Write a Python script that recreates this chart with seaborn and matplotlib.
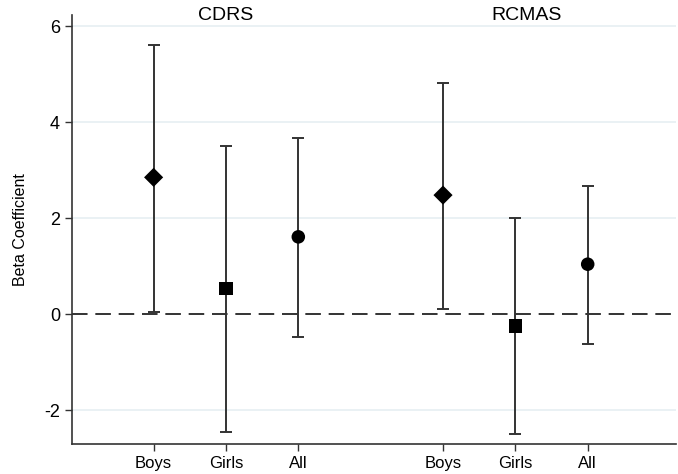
import numpy as np
import pandas as pd
import matplotlib
matplotlib.use("Agg")
import matplotlib.pyplot as plt
import seaborn as sns

# ---------------------------------------------------------
# DATA
# ---------------------------------------------------------
scales = ["CDRS", "CDRS", "CDRS", "RCMAS", "RCMAS", "RCMAS"]
groups = ["Boys", "Girls", "All", "Boys", "Girls", "All"]
positions = [1, 2, 3, 5, 6, 7]
beta = [2.85, 0.53, 1.61, 2.48, -0.25, 1.04]
ci_low = [0.05, -2.46, -0.48, 0.10, -2.50, -0.63]
ci_high = [5.61, 3.51, 3.67, 4.81, 2.00, 2.68]
y_ticks = [-2, 0, 2, 4, 6]

df = pd.DataFrame({"scale": scales, "group": groups, "pos": positions,
                   "beta": beta, "lo": ci_low, "hi": ci_high})

sns.set_style("white")
plt.rcParams["font.family"] = ["Liberation Sans", "DejaVu Sans"]

fig = plt.figure(figsize=(6.78, 4.74), dpi=100)
ax = fig.add_axes([0.106, 0.063, 0.891, 0.905])

# light horizontal grid
for yv in y_ticks:
    if yv != 0:
        ax.axhline(yv, color="#e6eff2", lw=1.2, zorder=0)

# reference line at zero
ax.axhline(0, color="#333333", lw=1.4, ls=(0, (8, 4)), zorder=1)

# confidence intervals
ax.errorbar(df["pos"], df["beta"],
            yerr=[df["beta"] - df["lo"], df["hi"] - df["beta"]],
            fmt="none", ecolor="#333333", elinewidth=1.4, capsize=4,
            capthick=1.4, zorder=2)

# point estimates
sns.scatterplot(data=df, x="pos", y="beta", style="group",
                markers={"Boys": "D", "Girls": "s", "All": "o"},
                color="black", s=95, edgecolor="black", linewidth=0,
                legend=False, ax=ax, zorder=3)

# panel titles
ax.text(2.0, 6.22, "CDRS", ha="center", va="center", fontsize=14, color="black")
ax.text(6.15, 6.22, "RCMAS", ha="center", va="center", fontsize=14, color="black")

ax.set_xlim(-0.13, 8.22)
ax.set_ylim(-2.71, 6.23)
ax.set_xticks(positions)
ax.set_xticklabels(groups, fontsize=12, color="black")
ax.set_yticks(y_ticks)
ax.set_yticklabels([str(t) for t in y_ticks], fontsize=13, color="black")
ax.set_xlabel("")
ax.set_ylabel("Beta Coefficient", fontsize=11.5, labelpad=12, color="black")

sns.despine(ax=ax, top=True, right=True)
for side in ["left", "bottom"]:
    ax.spines[side].set_color("#333333")
    ax.spines[side].set_linewidth(1.2)
ax.tick_params(axis="both", direction="out", length=5, width=1,
               color="#333333", bottom=True, left=True)

fig.savefig("out.png", dpi=100)
